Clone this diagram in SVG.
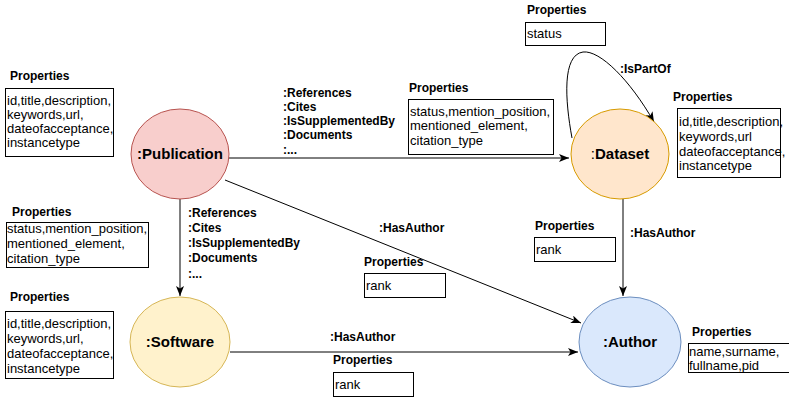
<svg xmlns="http://www.w3.org/2000/svg" width="789" height="397" viewBox="0 0 789 397">
  <style>
    text { font-family: "Liberation Sans", Arial, sans-serif; fill: #000; }
    .ttl { font-size: 12px; font-weight: bold; }
    .prop { font-size: 13px; }
    .lbl { font-size: 12px; font-weight: bold; }
    .node { font-size: 15px; font-weight: bold; }
    .box { fill: #fff; stroke: #000; stroke-width: 1; }
    .edge { fill: none; stroke: #000; stroke-width: 1; marker-end: url(#arrow); }
  </style>
  <defs>
    <marker id="arrow" markerUnits="userSpaceOnUse" markerWidth="11" markerHeight="9" refX="10" refY="4" orient="auto">
      <path d="M0,0 L10,4 L0,8 L2.5,4 Z" fill="#000"/>
    </marker>
  </defs>
  <rect width="789" height="397" fill="#fff"/>

  <!-- connectors -->
  <g id="connectors">
    <path class="edge" d="M229,158 L569,158"/>
    <path class="edge" d="M180,199 L180,296"/>
    <path class="edge" d="M225,180 L581,323"/>
    <path class="edge" d="M623,199 L623,296"/>
    <path class="edge" d="M230,352 L578,352"/>
    <path class="edge" d="M572,138 C565,100 562,55 583,52 C600,50 630,80 654,122"/>
  </g>

  <!-- edge labels -->
  <g id="edge-labels">
    <text class="lbl" x="283" y="97">:References</text>
    <text class="lbl" x="283" y="111">:Cites</text>
    <text class="lbl" x="283" y="125">:IsSupplementedBy</text>
    <text class="lbl" x="283" y="139">:Documents</text>
    <text class="lbl" x="283" y="154">:...</text>

    <text class="lbl" x="188" y="217">:References</text>
    <text class="lbl" x="188" y="232">:Cites</text>
    <text class="lbl" x="188" y="247">:IsSupplementedBy</text>
    <text class="lbl" x="188" y="262">:Documents</text>
    <text class="lbl" x="188" y="278">:...</text>

    <text class="lbl" x="620" y="73">:IsPartOf</text>
    <text class="lbl" x="379" y="232">:HasAuthor</text>
    <text class="lbl" x="630" y="237">:HasAuthor</text>
    <text class="lbl" x="330" y="341">:HasAuthor</text>
  </g>

  <!-- property boxes -->
  <g id="props-publication">
    <text class="ttl" x="10" y="80">Properties</text>
    <rect class="box" x="5.5" y="88.5" width="108" height="68"/>
    <text class="prop" x="7" y="105">id,title,description,</text>
    <text class="prop" x="7" y="119">keywords,url,</text>
    <text class="prop" x="7" y="133">dateofacceptance,</text>
    <text class="prop" x="7" y="147">instancetype</text>
  </g>
  <g id="props-pub-dataset">
    <text class="ttl" x="409" y="92">Properties</text>
    <rect class="box" x="408.5" y="99.5" width="145" height="55"/>
    <text class="prop" x="410" y="116">status,mention_position,</text>
    <text class="prop" x="410" y="130">mentioned_element,</text>
    <text class="prop" x="410" y="145">citation_type</text>
  </g>
  <g id="props-ispartof">
    <text class="ttl" x="527" y="14">Properties</text>
    <rect class="box" x="525.5" y="22.5" width="80" height="23"/>
    <text class="prop" x="527" y="38">status</text>
  </g>
  <g id="props-dataset">
    <text class="ttl" x="673" y="101">Properties</text>
    <rect class="box" x="677.5" y="108.5" width="103" height="69"/>
    <text class="prop" x="679" y="126">id,title,description,</text>
    <text class="prop" x="679" y="141">keywords,url</text>
    <text class="prop" x="679" y="156">dateofacceptance,</text>
    <text class="prop" x="679" y="170">instancetype</text>
  </g>
  <g id="props-pub-software">
    <text class="ttl" x="12" y="216">Properties</text>
    <rect class="box" x="6.5" y="222.5" width="142" height="45"/>
    <text class="prop" x="7" y="233">status,mention_position,</text>
    <text class="prop" x="7" y="248">mentioned_element,</text>
    <text class="prop" x="7" y="263">citation_type</text>
  </g>
  <g id="props-software">
    <text class="ttl" x="10" y="301">Properties</text>
    <rect class="box" x="5.5" y="311.5" width="108" height="67"/>
    <text class="prop" x="7" y="328">id,title,description,</text>
    <text class="prop" x="7" y="343">keywords,url,</text>
    <text class="prop" x="7" y="358">dateofacceptance,</text>
    <text class="prop" x="7" y="373">instancetype</text>
  </g>
  <g id="props-pub-author">
    <text class="ttl" x="364" y="266">Properties</text>
    <rect class="box" x="364.5" y="273.5" width="81" height="24"/>
    <text class="prop" x="366" y="290">rank</text>
  </g>
  <g id="props-dataset-author">
    <text class="ttl" x="535" y="230">Properties</text>
    <rect class="box" x="534.5" y="237.5" width="81" height="24"/>
    <text class="prop" x="536" y="254">rank</text>
  </g>
  <g id="props-software-author">
    <text class="ttl" x="333" y="364">Properties</text>
    <rect class="box" x="333.5" y="372.5" width="80" height="24"/>
    <text class="prop" x="335" y="389">rank</text>
  </g>
  <g id="props-author">
    <text class="ttl" x="692" y="336">Properties</text>
    <rect class="box" x="688.5" y="343.5" width="102" height="29"/>
    <text class="prop" x="689" y="356">name,surname,</text>
    <text class="prop" x="689" y="370">fullname,pid</text>
  </g>

  <!-- nodes -->
  <g id="node-publication">
    <ellipse cx="180" cy="154" rx="49" ry="45" fill="#f8cecc" stroke="#b85450"/>
    <text class="node" x="180" y="159" text-anchor="middle">:Publication</text>
  </g>
  <g id="node-dataset">
    <ellipse cx="620" cy="154" rx="49" ry="45" fill="#ffe6cc" stroke="#d79b00"/>
    <text class="node" x="620" y="159" text-anchor="middle"><tspan font-weight="normal">:</tspan>Dataset</text>
  </g>
  <g id="node-software">
    <ellipse cx="180" cy="342" rx="50" ry="45" fill="#fff2cc" stroke="#d6b656"/>
    <text class="node" x="180" y="347" text-anchor="middle">:Software</text>
  </g>
  <g id="node-author">
    <ellipse cx="630" cy="342" rx="51" ry="45" fill="#dae8fc" stroke="#6c8ebf"/>
    <text class="node" x="630" y="347" text-anchor="middle">:Author</text>
  </g>
</svg>
